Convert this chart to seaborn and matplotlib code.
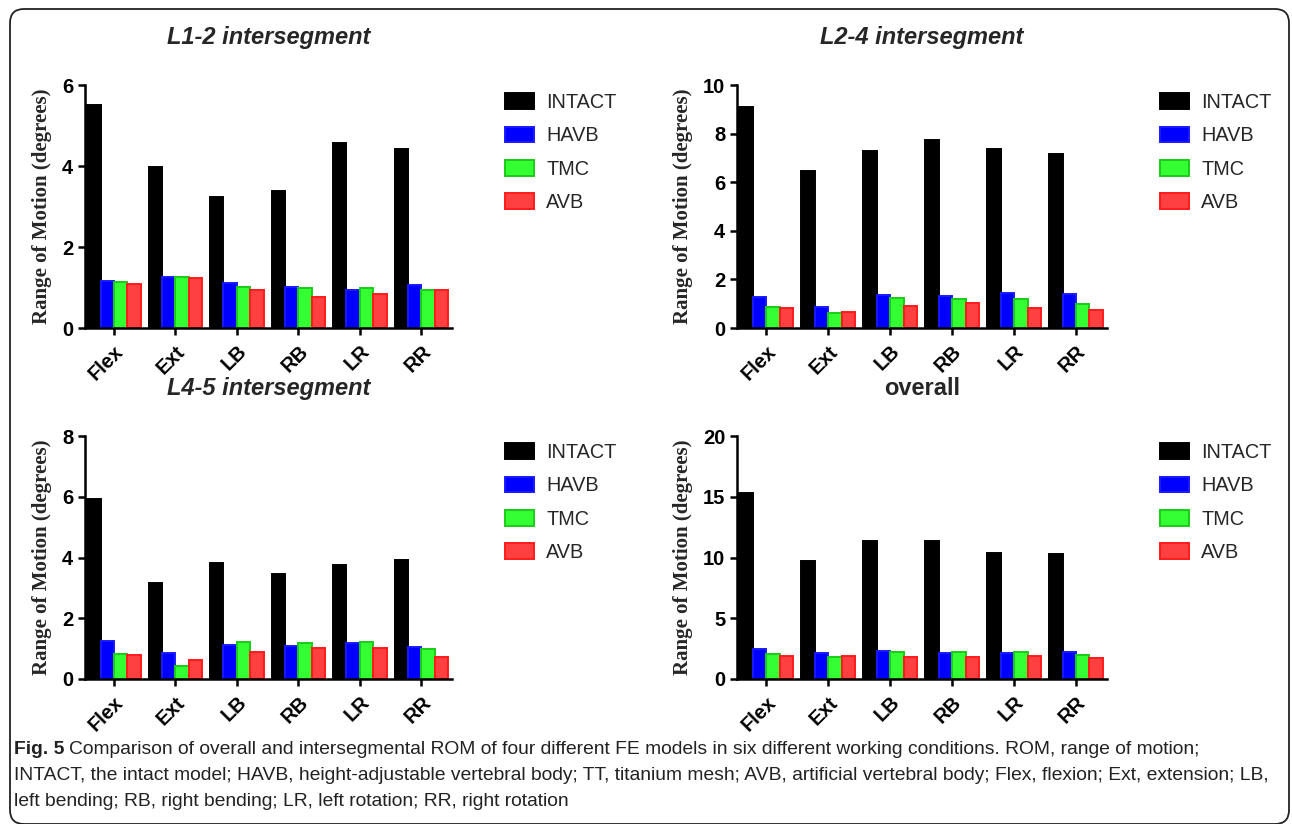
import numpy as np
import pandas as pd
import matplotlib
matplotlib.use("Agg")
import matplotlib.pyplot as plt
import seaborn as sns
from matplotlib.patches import Patch, FancyBboxPatch
from matplotlib.transforms import IdentityTransform

W, H = 1292, 824

conditions = ["Flex", "Ext", "LB", "RB", "LR", "RR"]
models = ["INTACT", "HAVB", "TMC", "AVB"]

# L1-2 intersegment
l12_intact = [5.51, 3.97, 3.23, 3.39, 4.56, 4.42]
l12_havb = [1.16, 1.26, 1.11, 1.01, 0.93, 1.06]
l12_tmc = [1.13, 1.27, 1.02, 0.99, 0.99, 0.95]
l12_avb = [1.08, 1.23, 0.93, 0.76, 0.84, 0.93]

# L2-4 intersegment
l24_intact = [9.11, 6.48, 7.30, 7.73, 7.37, 7.15]
l24_havb = [1.29, 0.88, 1.34, 1.32, 1.42, 1.38]
l24_tmc = [0.86, 0.63, 1.22, 1.21, 1.21, 0.99]
l24_avb = [0.81, 0.66, 0.90, 1.03, 0.84, 0.75]

# L4-5 intersegment
l45_intact = [5.94, 3.15, 3.81, 3.46, 3.74, 3.93]
l45_havb = [1.25, 0.84, 1.13, 1.10, 1.18, 1.06]
l45_tmc = [0.83, 0.43, 1.22, 1.18, 1.21, 0.98]
l45_avb = [0.78, 0.64, 0.88, 1.02, 1.02, 0.72]

# overall
all_intact = [15.34, 9.73, 11.37, 11.37, 10.38, 10.30]
all_havb = [2.47, 2.14, 2.27, 2.14, 2.14, 2.19]
all_tmc = [2.03, 1.78, 2.25, 2.22, 2.22, 1.97]
all_avb = [1.89, 1.89, 1.84, 1.84, 1.89, 1.70]

fills = ["#000000", "#0000ff", "#33ff33", "#ff4040"]
edges = ["#000000", "#1a1aff", "#19cc19", "#ff1a1a"]

sns.set_style("ticks")
plt.rcParams["font.family"] = ["Liberation Sans", "DejaVu Sans"]


def px_rect(left, right, top, bottom):
    return [left / W, 1 - bottom / H, (right - left) / W, (bottom - top) / H]


def make_df(series):
    rows = []
    for m, vals in zip(models, series):
        for c, v in zip(conditions, vals):
            rows.append({"condition": c, "model": m, "rom": v})
    return pd.DataFrame(rows)


def draw_panel(fig, rect, title, series, ymax, step, italic, legend_xy):
    ax = fig.add_axes(rect)
    df = make_df(series)
    sns.barplot(data=df, x="condition", y="rom", hue="model", hue_order=models,
                order=conditions, palette=fills, saturation=1, width=0.87,
                linewidth=1.4, legend=False, ax=ax, errorbar=None)
    for cont, ec in zip(ax.containers, edges):
        for bar in cont:
            bar.set_edgecolor(ec)

    ax.set_xlim(-0.47, 5.5)
    ax.set_ylim(0, ymax)
    ticks = np.arange(0, ymax + step / 2, step)
    ax.set_yticks(ticks)
    ax.set_yticklabels([str(int(t)) for t in ticks], fontweight="bold", fontsize=14.5)
    ax.set_xticks(range(len(conditions)))
    ax.set_xticklabels(conditions, rotation=45, ha="right", rotation_mode="anchor",
                       fontweight="bold", fontsize=14.5)
    ax.tick_params(axis="both", direction="out", length=5, width=1.8, colors="black")
    ax.tick_params(axis="x", pad=5)
    for s in ["top", "right"]:
        ax.spines[s].set_visible(False)
    for s in ["left", "bottom"]:
        ax.spines[s].set_linewidth(1.8)
        ax.spines[s].set_color("black")
    ax.set_xlabel("")
    ax.set_ylabel("Range of Motion (degrees)", family=["Liberation Serif", "DejaVu Serif"],
                  fontweight="bold", fontsize=15, labelpad=7)
    ax.text(0.5, 1 + 48 / 243, title, transform=ax.transAxes, ha="center", va="center",
            fontsize=17, fontweight="bold", fontstyle="italic" if italic else "normal")

    handles = [Patch(facecolor=f, edgecolor=e, linewidth=1.4) for f, e in zip(fills, edges)]
    fig.legend(handles, models, loc="upper left",
               bbox_to_anchor=(legend_xy[0] / W, 1 - legend_xy[1] / H),
               frameon=False, fontsize=14.3, borderpad=0, borderaxespad=0,
               handlelength=1.45, handleheight=0.85, handletextpad=0.62,
               labelspacing=0.72)
    return ax


fig = plt.figure(figsize=(W / 100, H / 100), dpi=100)
fig.patch.set_facecolor("white")

draw_panel(fig, px_rect(85, 452, 85, 328), "L1-2 intersegment",
           [l12_intact, l12_havb, l12_tmc, l12_avb], 6, 2, True, (505, 93))
draw_panel(fig, px_rect(737, 1107, 85, 328), "L2-4 intersegment",
           [l24_intact, l24_havb, l24_tmc, l24_avb], 10, 2, True, (1160, 93))
draw_panel(fig, px_rect(85, 452, 436, 679), "L4-5 intersegment",
           [l45_intact, l45_havb, l45_tmc, l45_avb], 8, 2, True, (505, 443))
draw_panel(fig, px_rect(737, 1107, 436, 679), "overall",
           [all_intact, all_havb, all_tmc, all_avb], 20, 5, False, (1160, 443))

# rounded outer frame
frame = FancyBboxPatch((10, 0), 1279, 815, boxstyle="round,pad=0,rounding_size=14",
                       linewidth=1.3, edgecolor="#222222", facecolor="none",
                       transform=IdentityTransform())
fig.patches.append(frame)

# caption
cap_font = ["Liberation Sans", "DejaVu Sans"]
cap_size = 13.85
line1 = ("Comparison of overall and intersegmental ROM of four different FE models in six "
         "different working conditions. ROM, range of motion;")
line2 = ("INTACT, the intact model; HAVB, height-adjustable vertebral body; TT, titanium mesh; "
         "AVB, artificial vertebral body; Flex, flexion; Ext, extension; LB,")
line3 = "left bending; RB, right bending; LR, left rotation; RR, right rotation"

fig.canvas.draw()
renderer = fig.canvas.get_renderer()
t = fig.text(14 / W, 1 - 750 / H, "Fig. 5", family=cap_font, fontsize=cap_size,
             fontweight="bold", color="#222222", va="center", ha="left")
bb = t.get_window_extent(renderer)
fig.text((bb.x1 + 5) / W, 1 - 750 / H, line1, family=cap_font, fontsize=cap_size,
         color="#222222", va="center", ha="left")
fig.text(14 / W, 1 - 776 / H, line2, family=cap_font, fontsize=cap_size,
         color="#222222", va="center", ha="left")
fig.text(14 / W, 1 - 802 / H, line3, family=cap_font, fontsize=cap_size,
         color="#222222", va="center", ha="left")

fig.savefig("out.png", dpi=100, facecolor="white")
